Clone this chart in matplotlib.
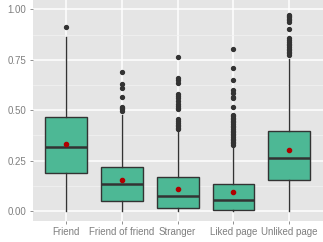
import matplotlib

matplotlib.use("Agg")
import matplotlib.pyplot as plt

# per-category box stats
categories = ["Friend", "Friend of friend", "Stranger", "Liked page", "Unliked page"]
q1 = [0.188, 0.048, 0.013, 0.003, 0.154]
med = [0.317, 0.134, 0.074, 0.055, 0.263]
q3 = [0.468, 0.220, 0.170, 0.132, 0.397]
whislo = [0.0, 0.0, 0.0, 0.0, 0.0]
whishi = [0.862, 0.476, 0.400, 0.322, 0.752]
means = [0.332, 0.152, 0.109, 0.094, 0.301]
fliers = [
    [0.911],
    [0.498, 0.505, 0.510, 0.517, 0.564, 0.609, 0.632, 0.691],
    [0.405, 0.412, 0.42, 0.428, 0.436, 0.448, 0.455,
     0.504, 0.512, 0.52, 0.53, 0.545, 0.56, 0.572, 0.58,
     0.633, 0.65, 0.661, 0.762],
    [0.327, 0.335, 0.343, 0.351, 0.359, 0.367, 0.375, 0.383, 0.391, 0.399,
     0.407, 0.415, 0.423, 0.431, 0.439, 0.447, 0.455, 0.463, 0.471, 0.476,
     0.517, 0.559, 0.566, 0.584, 0.600, 0.651, 0.708, 0.804],
    [0.774, 0.782, 0.79, 0.798, 0.806, 0.814, 0.822, 0.83, 0.838, 0.846, 0.857,
     0.904, 0.939, 0.946, 0.953, 0.96, 0.966, 0.972],
]
yticks = [0.0, 0.25, 0.5, 0.75, 1.0]
yticklabels = ["0.00", "0.25", "0.50", "0.75", "1.00"]

plt.rcParams["font.family"] = ["Liberation Sans", "DejaVu Sans"]

fig = plt.figure(figsize=(3.23, 2.42), dpi=100)
ax = fig.add_axes([32.5 / 323, 21 / 242, 290.3 / 323, 221 / 242])
ax.set_facecolor("#E5E5E5")

stats = []
for i in range(len(categories)):
    stats.append(dict(q1=q1[i], med=med[i], q3=q3[i], whislo=whislo[i],
                      whishi=whishi[i], fliers=fliers[i], mean=means[i]))

line = "#333333"
ax.bxp(stats, positions=range(1, len(categories) + 1), widths=0.75,
       patch_artist=True, showmeans=True, showcaps=False,
       boxprops=dict(facecolor="#4DB895", edgecolor=line, linewidth=1.0),
       medianprops=dict(color=line, linewidth=1.8),
       whiskerprops=dict(color=line, linewidth=1.0),
       flierprops=dict(marker="o", markersize=2.8, markerfacecolor=line,
                       markeredgecolor=line, linestyle="none"),
       meanprops=dict(marker="o", markersize=3.0, markerfacecolor="#B00000",
                      markeredgecolor="#B00000"),
       zorder=3)

ax.set_xlim(0.4, 5.6)
ax.set_ylim(-0.0496, 1.0466)
ax.set_xticks(range(1, len(categories) + 1))
ax.set_xticklabels(categories)
ax.set_yticks(yticks)
ax.set_yticklabels(yticklabels)
ax.set_yticks([0.125, 0.375, 0.625, 0.875], minor=True)

ax.grid(which="major", color="white", linewidth=1.1, zorder=0)
ax.grid(which="minor", axis="y", color="#F2F2F2", linewidth=0.5, zorder=0)
ax.set_axisbelow(True)
for s in ax.spines.values():
    s.set_visible(False)
ax.tick_params(which="major", length=2.5, width=0.6, color="#7F7F7F",
               labelcolor="#7F7F7F", labelsize=7, pad=2)
ax.tick_params(which="minor", length=0)

fig.savefig("out.png", dpi=100)
